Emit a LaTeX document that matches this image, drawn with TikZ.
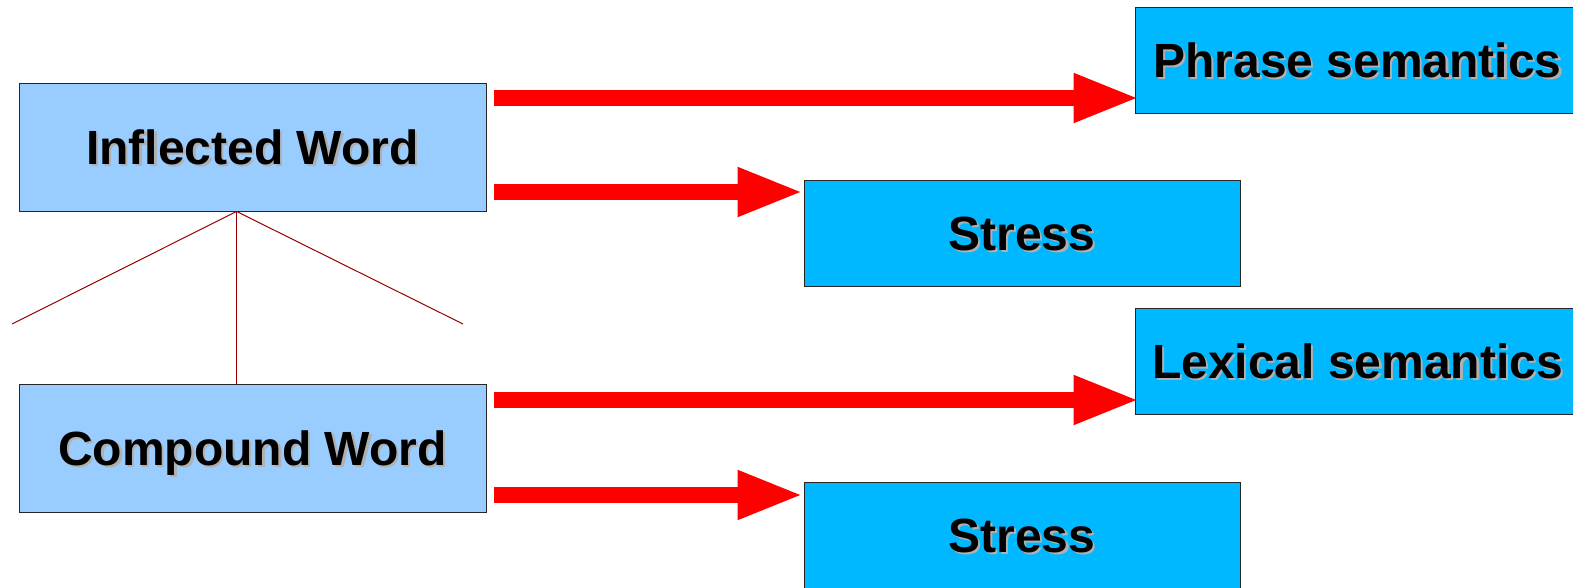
\documentclass[tikz,border=0pt]{standalone}
\usepackage{fontspec}
\setmainfont{Liberation Sans}
\usetikzlibrary{arrows.meta,calc}
\definecolor{lightbox}{HTML}{99CCFF}
\definecolor{cyanbox}{HTML}{00B8FF}
\definecolor{shadowgray}{HTML}{B0B0B0}
\definecolor{treeline}{HTML}{990000}
\definecolor{bigred}{HTML}{FF0000}
\newcommand{\shtext}[1]{\makebox[0pt][l]{\hspace{2.2bp}\raisebox{-2.2bp}{\color{shadowgray}#1}}#1}
\tikzset{
  box/.style={draw=black!85, line width=0.9bp, inner sep=0pt,
    font=\fontsize{48bp}{56bp}\selectfont\bfseries, text height=34.5bp, text depth=0pt},
  wordbox/.style={box, fill=lightbox, minimum width=467bp, minimum height=128bp},
  infobox/.style={box, fill=cyanbox, minimum width=436bp, minimum height=106bp},
  widebox/.style={box, fill=cyanbox, minimum width=445bp, minimum height=106bp},
  bigarrow/.style={draw=bigred, line width=16bp,
    -{Triangle[length=66bp,width=45bp,fill=bigred]}},
  treeedge/.style={draw=treeline, line width=1bp}
}
\begin{document}
\begin{tikzpicture}[x=1bp,y=-1bp]
\useasboundingbox (0,0) rectangle (1573,588);
\fill[white] (0,0) rectangle (1573,588);
\node[wordbox] (infl) at (252.5,147) {\shtext{Inflected Word}};
\node[wordbox] (comp) at (252.5,448) {\shtext{Compound Word}};
\node[widebox] (phrase) at (1357.5,60) {\shtext{Phrase semantics}};
\node[infobox] (stressA) at (1022,233.5) {\shtext{Stress}};
\node[widebox] (lex) at (1357.5,361.5) {\shtext{Lexical semantics}};
\node[infobox] (stressB) at (1022,535.5) {\shtext{Stress}};
% arrows
\coordinate (s1) at ($(infl.east)+(8,-49)$);
\coordinate (s2) at ($(infl.east)+(8,45)$);
\coordinate (s3) at ($(comp.east)+(8,-48)$);
\coordinate (s4) at ($(comp.east)+(8,47)$);
\draw[bigarrow] (s1) -- ([xshift=5bp]s1 -| phrase.west);
\draw[bigarrow] (s2) -- (s2 -| stressA.west);
\draw[bigarrow] (s3) -- ([xshift=5bp]s3 -| lex.west);
\draw[bigarrow] (s4) -- (s4 -| stressB.west);
% tree
\coordinate (apex) at ($(infl.south west)+(218,0)$);
\coordinate (leftend) at (12,324);
\coordinate (rightend) at (463,324);
\draw[treeedge] (apex) -- (leftend);
\draw[treeedge] (apex) -- (rightend);
\draw[treeedge] (apex) -- (apex |- comp.north);
\end{tikzpicture}
\end{document}
